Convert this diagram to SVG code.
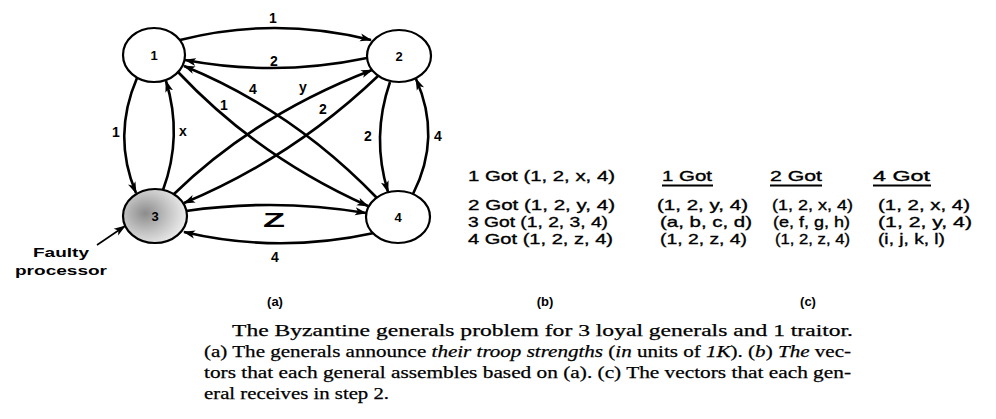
<svg xmlns="http://www.w3.org/2000/svg" width="996" height="419" viewBox="0 0 996 419">
<style>
.node{fill:#fff;stroke:#000;stroke-width:2.2}
.edge{fill:none;stroke:#000;stroke-width:2.6;marker-end:url(#ah)}
.nl{font-family:"Liberation Sans",Arial,sans-serif;font-size:13px;font-weight:bold;text-anchor:middle}
.el{font-family:"Liberation Sans",Arial,sans-serif;font-size:14px;font-weight:bold;text-anchor:middle}
.tb{font-family:"Liberation Sans",Arial,sans-serif;font-size:15px;fill:#000;stroke:#000;stroke-width:0.35}
.cap{font-family:"Liberation Serif","Times New Roman",serif;font-size:17px;fill:#000;stroke:#000;stroke-width:0.25}
.it{font-style:italic}
</style>
<defs>
<marker id="ah" markerUnits="userSpaceOnUse" markerWidth="12" markerHeight="9" refX="11" refY="4.5" orient="auto">
<path d="M0,0.5 L12,4.5 L0,8.5 L3,4.5 z" fill="#000"/>
</marker>
<radialGradient id="g3" cx="35%" cy="45%" r="65%">
<stop offset="0" stop-color="#8c8c8c"/>
<stop offset="0.55" stop-color="#c4c4c4"/>
<stop offset="1" stop-color="#ededed"/>
</radialGradient>
</defs>
<g id="connectors">
<path class="edge" d="M180,40 Q274,16 371,40"/>
<path class="edge" d="M367,58 Q276,77 185,60"/>
<path class="edge" d="M137,78 Q112,136 136,193"/>
<path class="edge" d="M163,190 Q183,136 166,81"/>
<path class="edge" d="M178,72 Q258,157 368,206"/>
<path class="edge" d="M377,198 Q292,110 184,66"/>
<path class="edge" d="M174,194 Q255,115 372,70"/>
<path class="edge" d="M378,76 Q292,158 184,203"/>
<path class="edge" d="M390,82 Q371,137 388,192"/>
<path class="edge" d="M413,194 Q442,137 416,79"/>
<path class="edge" d="M186,211 Q276,198 366,213"/>
<path class="edge" d="M374,233 Q278,254 184,232"/>
<path d="M97,245 L125,226" fill="none" stroke="#000" stroke-width="1.6" marker-end="url(#ah)"/>
</g>
<g id="edge-labels">
<text class="el" x="273" y="23">1</text>
<text class="el" x="274" y="66">2</text>
<text class="el" x="116" y="137">1</text>
<text class="el" x="183" y="136">x</text>
<text class="el" x="224" y="110">1</text>
<text class="el" x="253" y="94">4</text>
<text class="el" x="303" y="92">y</text>
<text class="el" x="323" y="114">2</text>
<text class="el" x="368" y="141">2</text>
<text class="el" x="438" y="141">4</text>
<text x="274" y="227" font-family="Liberation Sans,Arial,sans-serif" font-size="20" font-weight="bold" text-anchor="middle" textLength="22" lengthAdjust="spacingAndGlyphs">Z</text>
<text class="el" x="275" y="262">4</text>
</g>
<g id="node1"><ellipse class="node" cx="154" cy="55" rx="31" ry="27"/><text class="nl" x="154" y="60">1</text></g>
<g id="node2"><ellipse class="node" cx="399" cy="56" rx="32" ry="26"/><text class="nl" x="399" y="61">2</text></g>
<g id="node3"><ellipse class="node" cx="155" cy="216" rx="32" ry="27" style="fill:url(#g3)"/><text class="nl" x="155" y="221">3</text></g>
<g id="node4"><ellipse class="node" cx="398" cy="217" rx="32" ry="26"/><text class="nl" x="398" y="222">4</text></g>
<g id="faulty-label" font-family="Liberation Sans,Arial,sans-serif" font-size="13" font-weight="bold">
<text x="33" y="257" textLength="56" lengthAdjust="spacingAndGlyphs">Faulty</text>
<text x="15" y="275" textLength="92" lengthAdjust="spacingAndGlyphs">processor</text>
</g>
<g id="sublabels" font-family="Liberation Sans,Arial,sans-serif" font-size="13" font-weight="bold" text-anchor="middle">
<text x="275" y="306">(a)</text>
<text x="545" y="306">(b)</text>
<text x="808" y="306">(c)</text>
</g>
<g id="table-b">
<text class="tb" x="468" y="181" textLength="147" lengthAdjust="spacingAndGlyphs">1 Got (1, 2, x, 4)</text>
<text class="tb" x="468" y="210" textLength="147" lengthAdjust="spacingAndGlyphs">2 Got (1, 2, y, 4)</text>
<text class="tb" x="468" y="227" textLength="140" lengthAdjust="spacingAndGlyphs">3 Got (1, 2, 3, 4)</text>
<text class="tb" x="468" y="244" textLength="145" lengthAdjust="spacingAndGlyphs">4 Got (1, 2, z, 4)</text>
</g>
<g id="table-c">
<text class="tb" x="662" y="181" textLength="50" lengthAdjust="spacingAndGlyphs">1 Got</text>
<text class="tb" x="770" y="181" textLength="52" lengthAdjust="spacingAndGlyphs">2 Got</text>
<text class="tb" x="873" y="181" textLength="57" lengthAdjust="spacingAndGlyphs">4 Got</text>
<g stroke="#000" stroke-width="1.8">
<line x1="662" y1="185.5" x2="713" y2="185.5"/>
<line x1="770" y1="185.5" x2="822" y2="185.5"/>
<line x1="873" y1="185.5" x2="931" y2="185.5"/>
</g>
<text class="tb" x="657" y="210" textLength="91" lengthAdjust="spacingAndGlyphs">(1, 2, y, 4)</text>
<text class="tb" x="660" y="227" textLength="92" lengthAdjust="spacingAndGlyphs">(a, b, c, d)</text>
<text class="tb" x="660" y="244" textLength="87" lengthAdjust="spacingAndGlyphs">(1, 2, z, 4)</text>
<text class="tb" x="772" y="210" textLength="81" lengthAdjust="spacingAndGlyphs">(1, 2, x, 4)</text>
<text class="tb" x="773" y="227" textLength="77" lengthAdjust="spacingAndGlyphs">(e, f, g, h)</text>
<text class="tb" x="775" y="244" textLength="75" lengthAdjust="spacingAndGlyphs">(1, 2, z, 4)</text>
<text class="tb" x="878" y="210" textLength="92" lengthAdjust="spacingAndGlyphs">(1, 2, x, 4)</text>
<text class="tb" x="878" y="227" textLength="94" lengthAdjust="spacingAndGlyphs">(1, 2, y, 4)</text>
<text class="tb" x="878" y="244" textLength="67" lengthAdjust="spacingAndGlyphs">(i, j, k, l)</text>
</g>
<g id="caption">
<text class="cap" x="232" y="336" textLength="621" lengthAdjust="spacingAndGlyphs">The Byzantine generals problem for 3 loyal generals and 1 traitor.</text>
<text class="cap" x="204" y="357" textLength="647" lengthAdjust="spacingAndGlyphs">(a) The generals announce <tspan class="it">their troop strengths</tspan> (<tspan class="it">in</tspan> units of <tspan class="it">1K</tspan>).  (<tspan class="it">b</tspan>) <tspan class="it">The</tspan> vec-</text>
<text class="cap" x="204" y="378" textLength="647" lengthAdjust="spacingAndGlyphs">tors that each general assembles based on (a).  (c) The vectors that each gen-</text>
<text class="cap" x="204" y="399" textLength="185" lengthAdjust="spacingAndGlyphs">eral receives in step 2.</text>
</g>
</svg>
